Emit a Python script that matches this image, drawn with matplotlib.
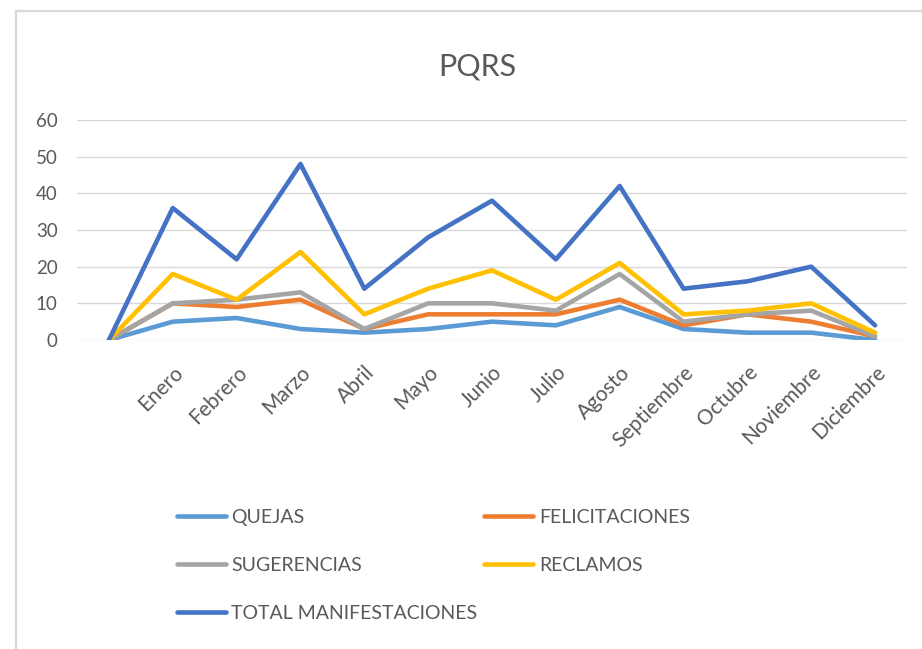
import matplotlib
matplotlib.use('Agg')
import matplotlib.pyplot as plt
from matplotlib.lines import Line2D

plt.rcParams['font.family'] = ['Lato', 'DejaVu Sans']

meses = ['', 'Enero', 'Febrero', 'Marzo', 'Abril', 'Mayo', 'Junio', 'Julio',
         'Agosto', 'Septiembre', 'Octubre', 'Noviembre', 'Diciembre']
quejas = [0, 5, 6, 3, 2, 3, 5, 4, 9, 3, 2, 2, 0]
felicitaciones = [0, 10, 9, 11, 3, 7, 7, 7, 11, 4, 7, 5, 1]
sugerencias = [0, 10, 11, 13, 3, 10, 10, 8, 18, 5, 7, 8, 1]
reclamos = [0, 18, 11, 24, 7, 14, 19, 11, 21, 7, 8, 10, 2]
total = [0, 36, 22, 48, 14, 28, 38, 22, 42, 14, 16, 20, 4]

series = [
    ('QUEJAS', quejas, '#5B9BD5'),
    ('FELICITACIONES', felicitaciones, '#ED7D31'),
    ('SUGERENCIAS', sugerencias, '#A5A5A5'),
    ('RECLAMOS', reclamos, '#FFC000'),
    ('TOTAL MANIFESTACIONES', total, '#4472C4'),
]

txt = '#595959'
W, H = 922, 649
fig = plt.figure(figsize=(W / 100, H / 100), dpi=100)
ax = fig.add_axes([77 / W, 1 - 340 / H, (907 - 77) / W, (340 - 120) / H])

x = list(range(len(meses)))
lines = {}
for name, vals, col in series:
    ln, = ax.plot(x, vals, color=col, lw=3.3, label=name,
                  solid_joinstyle='round', solid_capstyle='round')
    lines[name] = ln

ax.set_xlim(-0.5, len(meses) - 0.5)
ax.set_ylim(0, 60)
ax.set_yticks(range(0, 61, 10))
ax.yaxis.grid(True, color='#D9D9D9', lw=1.0)
ax.set_axisbelow(True)
for s in ax.spines.values():
    s.set_visible(False)
ax.tick_params(axis='both', length=0, colors=txt)
ax.tick_params(axis='y', pad=14, labelsize=13.5)
ax.set_xticks(x)
ax.set_xticklabels(meses, rotation=45, ha='right', rotation_mode='anchor')
ax.tick_params(axis='x', pad=16, labelsize=15)

fig.text(477 / W, 1 - 75 / H, 'PQRS', ha='center', va='baseline',
         fontsize=22, color=txt)

order = ['QUEJAS', 'SUGERENCIAS', 'TOTAL MANIFESTACIONES', 'FELICITACIONES', 'RECLAMOS']
leg = fig.legend([lines[n] for n in order], order, ncol=2,
                 loc='upper left', bbox_to_anchor=(177 / W, 1 - 509 / H),
                 frameon=False, fontsize=14, handlelength=2.5,
                 handletextpad=0.3, columnspacing=0.35, labelspacing=1.6,
                 borderpad=0, borderaxespad=0)
for t in leg.get_texts():
    t.set_color(txt)

# chart border (left and top edges visible in the screenshot)
fig.add_artist(Line2D([16 / W, 16 / W], [0, 1 - 11 / H], color='#D9D9D9', lw=1.6,
                      transform=fig.transFigure))
fig.add_artist(Line2D([16 / W, 1], [1 - 11 / H, 1 - 11 / H], color='#D9D9D9', lw=1.6,
                      transform=fig.transFigure))

fig.savefig('out.png', dpi=100)
